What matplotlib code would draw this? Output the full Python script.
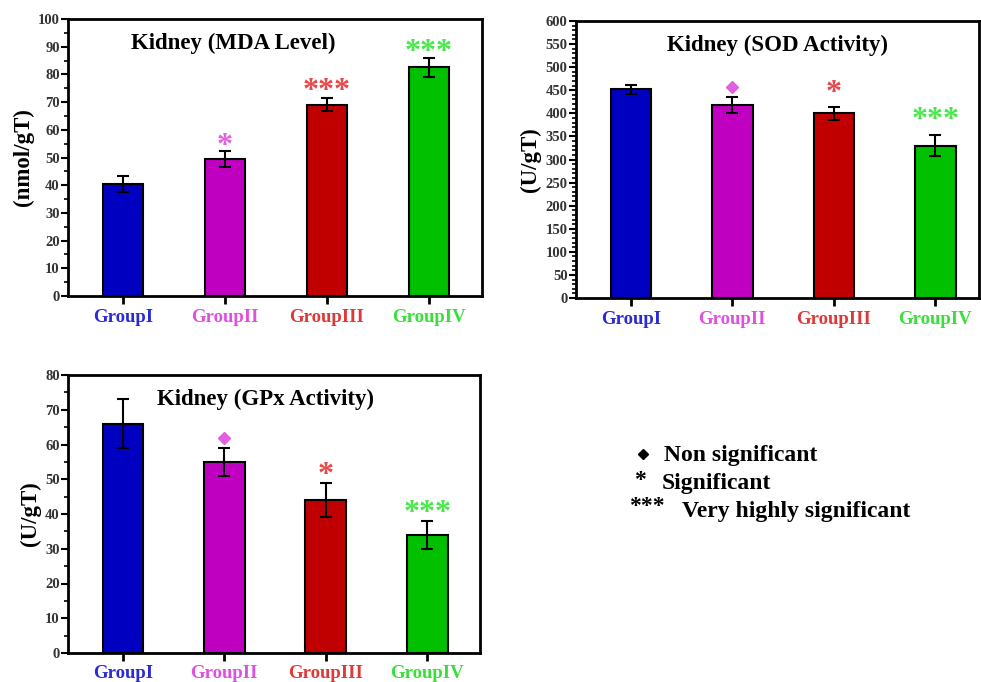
import numpy as np
import matplotlib.pyplot as plt

plt.rcParams['font.family'] = ['Liberation Serif', 'DejaVu Serif']
plt.rcParams['font.weight'] = 'bold'

groups = ['GroupI', 'GroupII', 'GroupIII', 'GroupIV']
bar_colors = ['#0000c0', '#c000c0', '#c00000', '#00c000']
label_colors = ['#2a2ad8', '#e050e0', '#e03838', '#38e038']
star_colors = ['#2a2ad8', '#e060e0', '#e84848', '#48e848']

mda_mean = [40.5, 49.5, 69.0, 82.5]
mda_err = [2.8, 3.0, 2.3, 3.5]
mda_marks = ['', '*', '***', '***']
mda_mark_y = [0, 54, 74, 88]

sod_mean = [452, 418, 400, 330]
sod_err = [10, 17, 14, 22]
sod_marks = ['', 'D', '*', '***']
sod_mark_y = [0, 456, 444, 384]

gpx_mean = [66, 55, 44, 34]
gpx_err = [7, 4, 5, 4]
gpx_marks = ['', 'D', '*', '***']
gpx_mark_y = [0, 62, 51, 40]

legend_items = [('D', 'Non significant'), ('*', 'Significant'), ('***', 'Very highly significant')]


def panel(fig, rect, means, errs, marks, mark_y, ymax, major, minor, title, ylabel, title_x,
          xlim_right=4.52):
    W, H = 981, 682
    l, t, r, b = rect
    ax = fig.add_axes([l / W, 1 - b / H, (r - l) / W, (b - t) / H])
    x = np.arange(1, 5)
    ax.bar(x, means, width=0.4, color=bar_colors, edgecolor='black', linewidth=1.5, zorder=2)
    ax.errorbar(x, means, yerr=errs, fmt='none', ecolor='black', elinewidth=1.5,
                capsize=4, capthick=1.5, zorder=3)
    for xi, m, my, c in zip(x, marks, mark_y, star_colors):
        if m == 'D':
            ax.plot(xi, my, marker='D', color=c, markersize=6, zorder=4)
        elif m:
            ax.text(xi, my, m, color=c, fontsize=23, ha='center', va='center', zorder=4)
    ax.set_xlim(0.46, xlim_right)
    ax.set_ylim(0, ymax)
    ax.set_yticks(np.arange(0, ymax + 1, major))
    ax.set_yticks(np.arange(0, ymax + 1, minor), minor=True)
    ax.set_xticks(x)
    ax.set_xticklabels(groups, fontsize=13.5, fontweight='bold')
    for lab, c in zip(ax.get_xticklabels(), label_colors):
        lab.set_color(c)
    ax.tick_params(axis='x', direction='out', length=6, width=2, pad=3)
    ax.tick_params(axis='y', direction='out', length=5, width=1.5, labelsize=10.5,
                   labelcolor='#333333', pad=1)
    ax.tick_params(axis='y', which='minor', direction='out', length=3, width=1.2)
    for s in ax.spines.values():
        s.set_linewidth(2)
    ax.set_ylabel(ylabel, fontsize=16.5, fontweight='bold', labelpad=3)
    ax.text(title_x, 0.912, title, transform=ax.transAxes, ha='center', va='center',
            fontsize=16.5, fontweight='bold')
    return ax


fig = plt.figure(figsize=(9.81, 6.82), dpi=100)

panel(fig, (68, 19, 482, 296), mda_mean, mda_err, mda_marks, mda_mark_y, 100, 10, 5,
      'Kidney (MDA Level)', '(nmol/gT)', 0.40)
panel(fig, (576, 21, 979, 298), sod_mean, sod_err, sod_marks, sod_mark_y, 600, 50, 10,
      'Kidney (SOD Activity)', '(U/gT)', 0.50, xlim_right=4.43)
panel(fig, (68, 375, 480, 653), gpx_mean, gpx_err, gpx_marks, gpx_mark_y, 80, 10, 5,
      'Kidney (GPx Activity)', '(U/gT)', 0.48)

# significance key
W, H = 981, 682
fig.lines.append(plt.Line2D([643 / W], [1 - 454 / H], marker='D', color='black',
                            markersize=5.5, transform=fig.transFigure))
fig.text(664 / W, 1 - 455 / H, legend_items[0][1], fontsize=17, fontweight='bold', va='center')
fig.text(640 / W, 1 - 480 / H, legend_items[1][0], fontsize=17, fontweight='bold',
         va='center', ha='center')
fig.text(662 / W, 1 - 483 / H, legend_items[1][1], fontsize=17, fontweight='bold', va='center')
fig.text(647 / W, 1 - 506 / H, legend_items[2][0], fontsize=17, fontweight='bold',
         va='center', ha='center')
fig.text(682 / W, 1 - 511 / H, legend_items[2][1], fontsize=17, fontweight='bold', va='center')

fig.savefig('out.png', dpi=100)
